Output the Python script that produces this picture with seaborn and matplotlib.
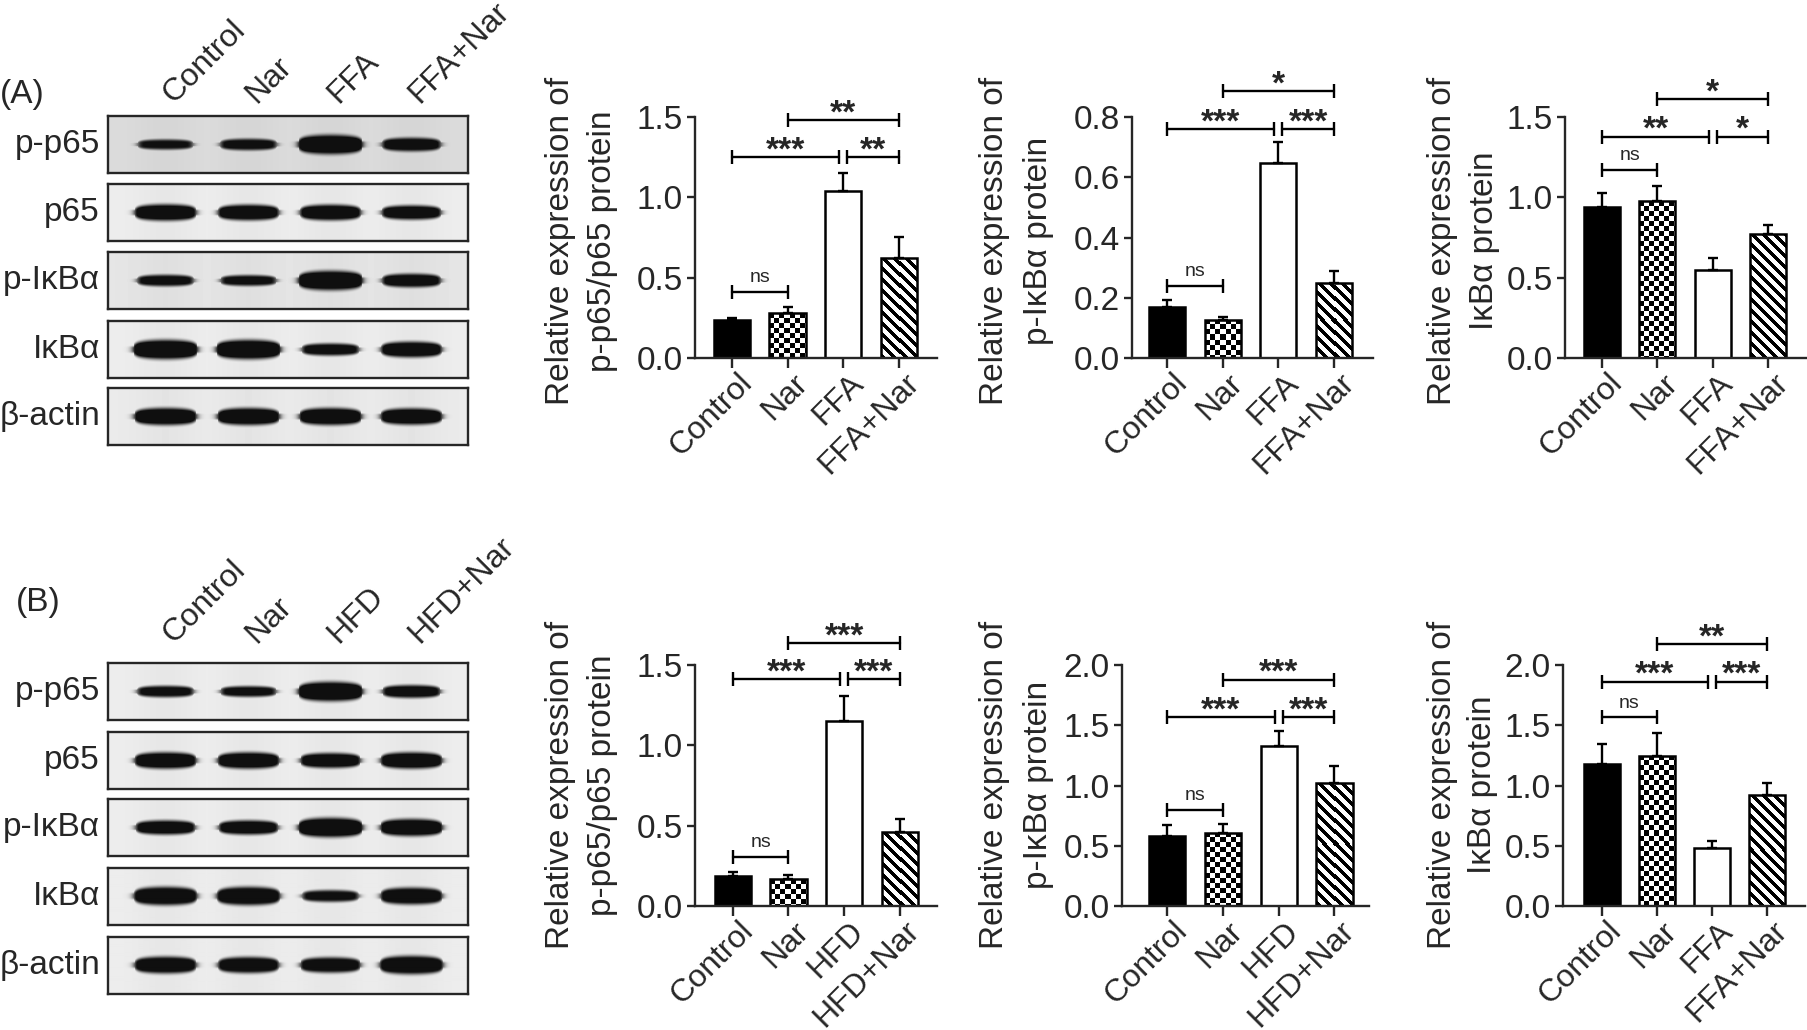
import numpy as np
import seaborn as sns
import matplotlib.pyplot as plt
from matplotlib.ticker import FormatStrFormatter
from matplotlib.transforms import ScaledTranslation

# ---------------- data ----------------
groups_ffa = ["Control", "Nar", "FFA", "FFA+Nar"]
groups_hfd = ["Control", "Nar", "HFD", "HFD+Nar"]
blot_rows = ["p-p65", "p65", "p-IκBα", "IκBα", "β-actin"]

# band strength per blot row and lane (0 faint .. 1 strongest)
bands_a = [
    [0.35, 0.45, 1.00, 0.60],
    [0.80, 0.75, 0.75, 0.65],
    [0.45, 0.40, 1.00, 0.60],
    [1.00, 1.00, 0.50, 0.75],
    [0.85, 0.85, 0.85, 0.80],
]
bands_b = [
    [0.45, 0.40, 1.00, 0.55],
    [0.80, 0.80, 0.70, 0.80],
    [0.65, 0.65, 1.00, 0.85],
    [0.90, 0.90, 0.45, 0.80],
    [0.80, 0.75, 0.70, 0.90],
]
blot_bg_a = [0.86, 0.93, 0.90, 0.93, 0.92]
blot_bg_b = [0.93, 0.93, 0.93, 0.93, 0.93]

# bar means and upper error bars
a_pp65 = [0.236, 0.278, 1.039, 0.620]
a_pp65_err = [0.015, 0.037, 0.114, 0.131]
a_pikb = [0.169, 0.127, 0.647, 0.249]
a_pikb_err = [0.022, 0.009, 0.069, 0.040]
a_ikb = [0.938, 0.975, 0.548, 0.770]
a_ikb_err = [0.090, 0.095, 0.076, 0.058]
b_pp65 = [0.187, 0.166, 1.153, 0.459]
b_pp65_err = [0.027, 0.027, 0.156, 0.081]
b_pikb = [0.581, 0.608, 1.330, 1.023]
b_pikb_err = [0.091, 0.072, 0.122, 0.139]
b_ikb = [1.176, 1.245, 0.479, 0.924]
b_ikb_err = [0.166, 0.193, 0.060, 0.094]

# significance brackets: (from group, to group, height, label)
a_pp65_sig = [(0, 1, 0.41, "ns"), (0, 2, 1.25, "***"), (2, 3, 1.25, "**"), (1, 3, 1.48, "**")]
a_pikb_sig = [(0, 1, 0.24, "ns"), (0, 2, 0.76, "***"), (2, 3, 0.76, "***"), (1, 3, 0.885, "*")]
a_ikb_sig = [(0, 1, 1.17, "ns"), (0, 2, 1.378, "**"), (2, 3, 1.378, "*"), (1, 3, 1.61, "*")]
b_pp65_sig = [(0, 1, 0.307, "ns"), (0, 2, 1.411, "***"), (2, 3, 1.411, "***"), (1, 3, 1.635, "***")]
b_pikb_sig = [(0, 1, 0.80, "ns"), (0, 2, 1.566, "***"), (2, 3, 1.566, "***"), (1, 3, 1.876, "***")]
b_ikb_sig = [(0, 1, 1.566, "ns"), (0, 2, 1.862, "***"), (2, 3, 1.862, "***"), (1, 3, 2.172, "**")]

ticks_15 = [0.0, 0.5, 1.0, 1.5]
ticks_08 = [0.0, 0.2, 0.4, 0.6, 0.8]
ticks_20 = [0.0, 0.5, 1.0, 1.5, 2.0]

# ---------------- style ----------------
sns.set_style("ticks")
plt.rcParams["font.family"] = ["Liberation Sans", "DejaVu Sans"]
plt.rcParams["axes.linewidth"] = 1.7

W, H, DPI = 1807, 1030, 100
fig = plt.figure(figsize=(W / DPI, H / DPI), dpi=DPI)


def px_box(l, t, r, b):
    return [l / W, 1 - b / H, (r - l) / W, (b - t) / H]


def fig_xy(x, y):
    return x / W, 1 - y / H


# ---------------- western blots ----------------
lane_x = [57, 140, 222, 303]


def band_image(strengths, bg):
    yy, xx = np.mgrid[0:57, 0:360].astype(float)
    dark = np.zeros((57, 360))
    for cx, s in zip(lane_x, strengths):
        half_w = 25 + 7 * s
        thick = 3.0 + 6.5 * s
        u = np.clip(1 - ((xx - cx) / half_w) ** 2, 0, 1)
        local = thick * (0.35 + 0.65 * u ** 0.35)
        vert = np.exp(-((yy - 28) / np.maximum(local, 0.5)) ** 4)
        horiz = 1 / (1 + np.exp((np.abs(xx - cx) - half_w) / 2.0))
        dark = np.maximum(dark, np.clip(1.5 * (0.55 + 0.45 * s) * horiz * vert, 0, 1))
    # faint lane halos
    for cx in lane_x:
        dark = np.maximum(dark, 0.03 * np.exp(-((xx - cx) / 30) ** 2))
    return bg * (1 - dark) + 0.06 * dark


def draw_blot(tops, bands, bgs, lanes, lane_label_y, tag, tag_xy):
    for name, top, strengths, bg in zip(blot_rows, tops, bands, bgs):
        ax = fig.add_axes(px_box(108, top, 468, top + 57))
        ax.imshow(band_image(strengths, bg), cmap="gray", vmin=0, vmax=1,
                  aspect="auto", interpolation="bilinear")
        ax.set_xticks([])
        ax.set_yticks([])
        for s in ax.spines.values():
            s.set_linewidth(1.7)
        fig.text(*fig_xy(100, top + 28.5), name, ha="right", va="center", fontsize=24)
    for cx, lab in zip(lane_x, lanes):
        fig.text(*fig_xy(108 + cx + 8, lane_label_y), lab, rotation=45, ha="left",
                 va="baseline", rotation_mode="anchor", fontsize=23)
    fig.text(*fig_xy(*tag_xy), tag, ha="left", va="center", fontsize=24)


draw_blot([116, 184, 252, 321, 388], bands_a, blot_bg_a, groups_ffa, 104, "(A)", (0, 95))
draw_blot([663, 732, 799, 868, 937], bands_b, blot_bg_b, groups_hfd, 644, "(B)", (16, 602))


# ---------------- bar charts ----------------
def add_texture(ax, patch, kind):
    x0, y0 = patch.get_x(), patch.get_y()
    w, h = patch.get_width(), patch.get_height()
    (px0, py0), (px1, py1) = ax.transData.transform([(x0, y0), (x0 + w, y0 + h)])
    nw, nh = max(int(round(px1 - px0)), 1), max(int(round(py1 - py0)), 1)
    rr, cc = np.mgrid[0:nh, 0:nw]
    if kind == "checker":
        tex = ((rr // 5 + cc // 5) % 2).astype(float)
    else:
        tex = (((cc - rr) % 11) >= 5).astype(float)
    im = ax.imshow(tex, cmap="gray", vmin=0, vmax=1, extent=(x0, x0 + w, y0, y0 + h),
                   origin="upper", interpolation="nearest", aspect="auto", zorder=1.5)
    im.set_clip_path(patch)
    patch.set_facecolor("none")
    patch.set_zorder(2)


def draw_brackets(ax, sig):
    for i, j, y, lab in sig:
        x1, x2 = float(i), float(j)
        for k, l, yy, _ in sig:
            if yy == y and (k, l) != (i, j):
                if k == j:
                    x2 -= 0.07
                if l == i:
                    x1 += 0.07
        ax.plot([x1, x2], [y, y], color="black", lw=1.7, clip_on=False, zorder=5)
        ax.plot([x1, x2], [y, y], ls="none", marker="|", ms=10, mew=1.7,
                color="black", clip_on=False, zorder=5)
        if lab == "ns":
            ax.annotate(lab, xy=((x1 + x2) / 2, y), xytext=(0, 7), textcoords="offset points",
                        ha="center", va="baseline", fontsize=14, annotation_clip=False)
        else:
            ax.annotate(lab, xy=((x1 + x2) / 2, y), xytext=(0, -1.5), textcoords="offset points",
                        ha="center", va="baseline", fontsize=24, fontweight="bold",
                        annotation_clip=False)


def bar_panel(box, xlim, labels, means, errs, ticks, sig, ylab, lab_x, lab_y):
    ax = fig.add_axes(px_box(*box))
    sns.barplot(x=labels, y=means, hue=labels, hue_order=labels, order=labels,
                palette=["black", "white", "white", "white"], saturation=1,
                width=0.65, edgecolor="black", linewidth=1.8, errorbar=None,
                legend=False, ax=ax)
    ax.set_xlim(*xlim)
    ax.set_ylim(ticks[0], ticks[-1])
    add_texture(ax, ax.patches[1], "checker")
    add_texture(ax, ax.patches[3], "stripes")
    ax.errorbar(range(len(means)), means, yerr=[np.zeros(len(errs)), errs], fmt="none",
                ecolor="black", elinewidth=1.7, capsize=3.6, capthick=1.7, zorder=4)
    ax.set_xlim(*xlim)
    ax.set_ylim(ticks[0], ticks[-1])
    ax.set_yticks(ticks)
    ax.yaxis.set_major_formatter(FormatStrFormatter("%.1f"))
    sns.despine(ax=ax)
    ax.tick_params(axis="y", length=5.8, width=1.7, pad=3, labelsize=24)
    ax.tick_params(axis="x", length=7.2, width=1.7, pad=0, labelsize=23)
    ax.set_xticks(range(len(labels)))
    ax.set_xticklabels(labels)
    shift = ScaledTranslation(5 / DPI, 0, fig.dpi_scale_trans)
    for t in ax.get_xticklabels():
        t.set_rotation(45)
        t.set_ha("right")
        t.set_va("top")
        t.set_rotation_mode("anchor")
        t.set_transform(t.get_transform() + shift)
    ax.set_xlabel("")
    ax.set_ylabel("")
    draw_brackets(ax, sig)
    for line, x in zip(ylab, lab_x):
        fig.text(*fig_xy(x, lab_y), line, rotation=90, ha="center", va="center", fontsize=24)
    return ax


bar_panel((695, 117, 937, 358), (-0.66, 3.68), groups_ffa, a_pp65, a_pp65_err, ticks_15,
          a_pp65_sig, ["Relative expression of", "p-p65/p65 protein"], (560, 603), 241)
bar_panel((1132, 117, 1373, 358), (-0.63, 3.70), groups_ffa, a_pikb, a_pikb_err, ticks_08,
          a_pikb_sig, ["Relative expression of", "p-IκBα protein"], (995, 1038), 241)
bar_panel((1565, 117, 1807, 358), (-0.67, 3.70), groups_ffa, a_ikb, a_ikb_err, ticks_15,
          a_ikb_sig, ["Relative expression of", "IκBα protein"], (1443, 1485), 241)
bar_panel((695, 665, 937, 906), (-0.68, 3.67), groups_hfd, b_pp65, b_pp65_err, ticks_15,
          b_pp65_sig, ["Relative expression of", "p-p65/p65 protein"], (560, 602), 785)
bar_panel((1122, 665, 1369, 906), (-0.81, 3.62), groups_hfd, b_pikb, b_pikb_err, ticks_20,
          b_pikb_sig, ["Relative expression of", "p-IκBα protein"], (995, 1038), 785)
bar_panel((1563, 665, 1805, 906), (-0.70, 3.68), groups_ffa, b_ikb, b_ikb_err, ticks_20,
          b_ikb_sig, ["Relative expression of", "IκBα protein"], (1442, 1483), 785)

fig.savefig("out.png", dpi=DPI, facecolor="white")
